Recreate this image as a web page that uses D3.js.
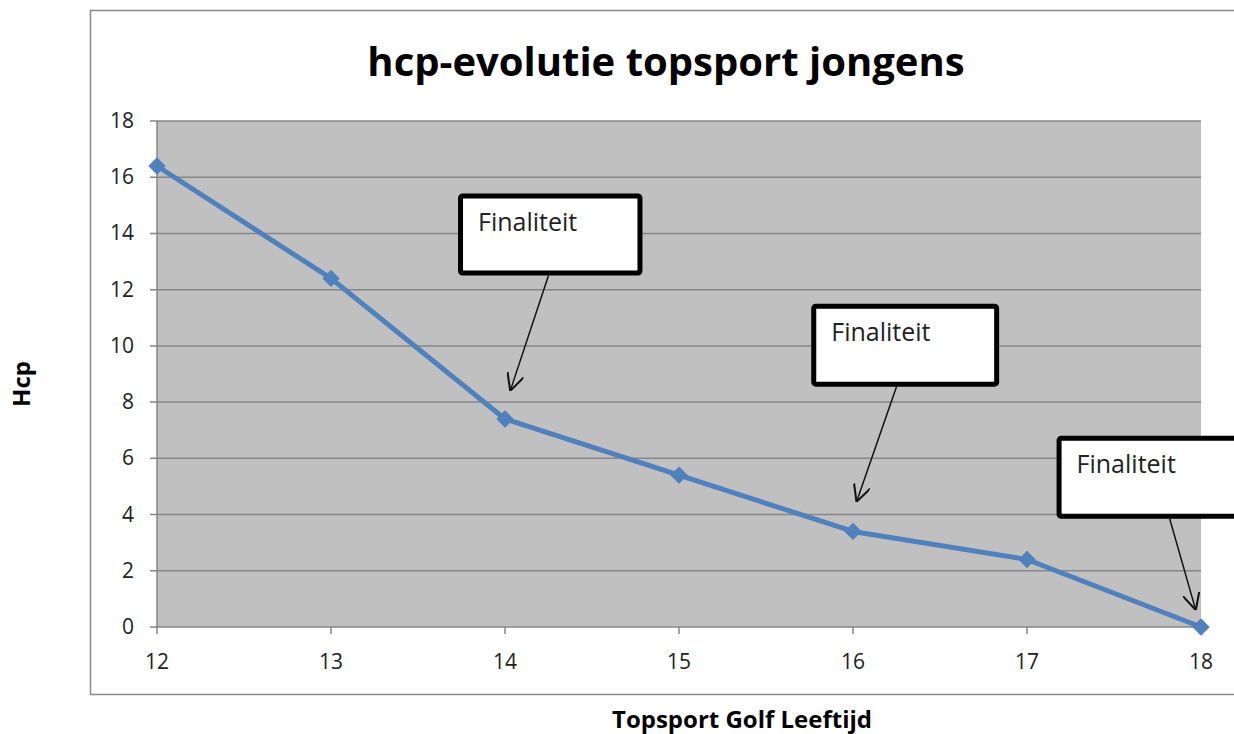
<!DOCTYPE html>
<html>
<head>
<meta charset="UTF-8"/>
<title>hcp-evolutie</title>
<script src="https://d3js.org/d3.v7.min.js"></script>
<style>
body { margin: 0; background: #fff; }
svg { display: block; font-family: 'Open Sans', sans-serif; }
text.tick-label { font-size: 21px; fill: #222; }
text.title { font-size: 40px; font-weight: 700; fill: #000; }
text.axis-title { font-size: 24px; font-weight: 700; fill: #000; }
text.note { font-size: 25px; fill: #222; }
</style>
</head>
<body>
<svg width="1234" height="734"></svg>
<script>
// data
const ages = [12, 13, 14, 15, 16, 17, 18];
const hcp = [16.4, 12.4, 7.4, 5.4, 3.4, 2.4, 0];
const yTicks = [0, 2, 4, 6, 8, 10, 12, 14, 16, 18];

// callouts in data units: box [x0, x1, yTop, yBottom], arrow from -> to
const notes = ['Finaliteit', 'Finaliteit', 'Finaliteit'];
const noteBoxes = [[13.73, 14.79, 15.42, 12.5], [15.76, 16.84, 11.5, 8.55], [17.17, 18.25, 6.8, 3.85]];
const noteArrows = [[14.25, 12.5, 14.03, 8.4], [16.25, 8.55, 16.02, 4.45], [17.82, 3.85, 17.97, 0.6]];

const svg = d3.select('svg');
const plotL = 157, plotR = 1201, plotT = 121, plotB = 627;

const x = d3.scaleLinear().domain([12, 18]).range([plotL, plotR]);
const y = d3.scaleLinear().domain([0, 18]).range([plotB, plotT]);

// outer chart frame
svg.append('path')
  .attr('d', `M1240,10.5 H90.5 V694.5 H1240`)
  .attr('fill', 'none').attr('stroke', '#888').attr('stroke-width', 1.5);

// plot background
svg.append('rect')
  .attr('x', plotL).attr('y', plotT)
  .attr('width', plotR - plotL).attr('height', plotB - plotT)
  .attr('fill', '#c0c0c0');

// grid lines
svg.append('g').selectAll('line')
  .data(yTicks)
  .join('line')
  .attr('x1', plotL - 7).attr('x2', plotR)
  .attr('y1', d => y(d)).attr('y2', d => y(d))
  .attr('stroke', '#868686').attr('stroke-width', 1.5);

// y axis line
svg.append('line')
  .attr('x1', plotL).attr('x2', plotL).attr('y1', plotT).attr('y2', plotB)
  .attr('stroke', '#868686').attr('stroke-width', 1.5);

// x tick marks
svg.append('g').selectAll('line')
  .data(ages)
  .join('line')
  .attr('x1', d => x(d)).attr('x2', d => x(d))
  .attr('y1', plotB).attr('y2', plotB + 7)
  .attr('stroke', '#868686').attr('stroke-width', 1.5);

// y tick labels
svg.append('g').selectAll('text')
  .data(yTicks)
  .join('text')
  .attr('class', 'tick-label')
  .attr('x', plotL - 23).attr('y', d => y(d) + 7)
  .attr('text-anchor', 'end')
  .text(d => d);

// x tick labels
svg.append('g').selectAll('text')
  .data(ages)
  .join('text')
  .attr('class', 'tick-label')
  .attr('x', d => x(d)).attr('y', plotB + 42)
  .attr('text-anchor', 'middle')
  .text(d => d);

// series line
const pts = ages.map((a, i) => [a, hcp[i]]);
svg.append('path')
  .datum(pts)
  .attr('fill', 'none')
  .attr('stroke', '#4f81bd')
  .attr('stroke-width', 5)
  .attr('stroke-linejoin', 'round')
  .attr('d', d3.line().x(d => x(d[0])).y(d => y(d[1])));

// diamond markers
svg.append('g').selectAll('path')
  .data(pts)
  .join('path')
  .attr('transform', d => `translate(${x(d[0])},${y(d[1])}) rotate(45)`)
  .attr('d', d3.symbol(d3.symbolSquare, 150))
  .attr('fill', '#4f81bd');

// arrowhead
svg.append('defs').append('marker')
  .attr('id', 'arr')
  .attr('viewBox', '0 0 10 10')
  .attr('refX', 10).attr('refY', 5)
  .attr('markerWidth', 17).attr('markerHeight', 17)
  .attr('markerUnits', 'userSpaceOnUse')
  .attr('orient', 'auto')
  .append('path')
  .attr('d', 'M0,0 L10,5 L0,10')
  .attr('fill', 'none').attr('stroke', '#111').attr('stroke-width', 1.2);

// callouts
const callouts = svg.append('g').selectAll('g')
  .data(notes.map((t, i) => ({ text: t, box: noteBoxes[i], arrow: noteArrows[i] })))
  .join('g');

callouts.append('line')
  .attr('x1', d => x(d.arrow[0])).attr('y1', d => y(d.arrow[1]))
  .attr('x2', d => x(d.arrow[2])).attr('y2', d => y(d.arrow[3]))
  .attr('stroke', '#111').attr('stroke-width', 1.5)
  .attr('marker-end', 'url(#arr)');

callouts.append('rect')
  .attr('x', d => x(d.box[0]) + 2.5).attr('y', d => y(d.box[2]) + 2.5)
  .attr('width', d => x(d.box[1]) - x(d.box[0]) - 5)
  .attr('height', d => y(d.box[3]) - y(d.box[2]) - 5)
  .attr('rx', 2)
  .attr('fill', '#fff').attr('stroke', '#000').attr('stroke-width', 5);

callouts.append('text')
  .attr('class', 'note')
  .attr('x', d => x(d.box[0]) + 20)
  .attr('y', d => y(d.box[2]) + 37)
  .text(d => d.text);

// titles
svg.append('text')
  .attr('class', 'title')
  .attr('x', 666).attr('y', 76)
  .attr('text-anchor', 'middle')
  .text('hcp-evolutie topsport jongens');

svg.append('text')
  .attr('class', 'axis-title')
  .attr('x', 742).attr('y', 728)
  .attr('text-anchor', 'middle')
  .text('Topsport Golf Leeftijd');

svg.append('text')
  .attr('class', 'axis-title')
  .attr('transform', 'translate(30,384) rotate(-90)')
  .attr('text-anchor', 'middle')
  .attr('font-size', 21)
  .text('Hcp');
</script>
</body>
</html>
